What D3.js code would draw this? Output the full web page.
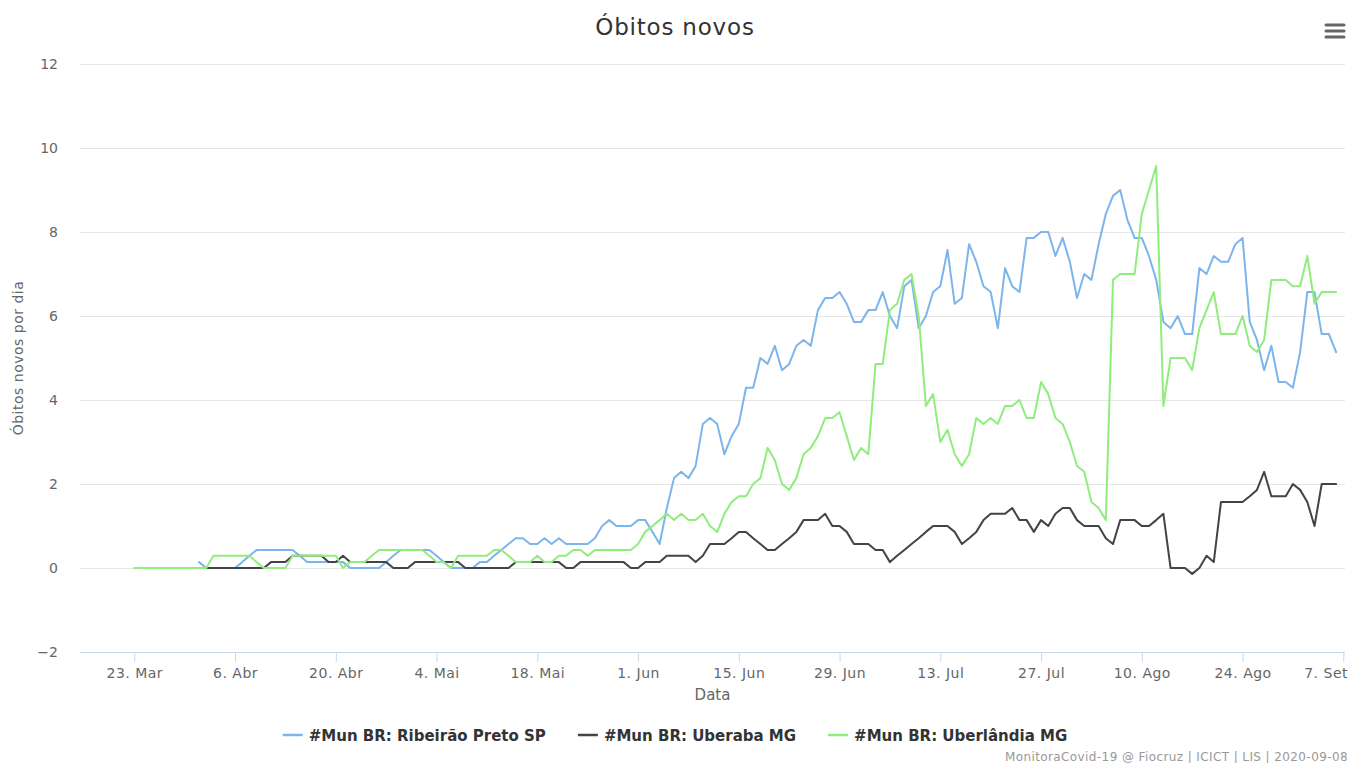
<!DOCTYPE html>
<html>
<head>
<meta charset="utf-8">
<title>Óbitos novos</title>
<script src="https://cdn.jsdelivr.net/npm/d3@7"></script>
<style>
  body { margin: 0; background: #fff; }
  svg { display: block; font-family: "DejaVu Sans", sans-serif; }
</style>
</head>
<body>
<script>

// Series: 7-day average of new deaths per municipality
var nomeRibeirao = "#Mun BR: Ribeirão Preto SP";
var inicioRibeirao = "2020-04-01";
var valoresRibeirao = [
  0.14, 0, 0, 0, 0, 0, 0.14, 0.29, 0.43, 0.43, 0.43, 0.43, 0.43, 0.43, 0.29, 0.14,
  0.14, 0.14, 0.14, 0.14, 0.14, 0, 0, 0, 0, 0, 0.14, 0.29, 0.43, 0.43, 0.43, 0.43,
  0.43, 0.29, 0.14, 0, 0, 0, 0, 0.14, 0.14, 0.29, 0.43, 0.57, 0.71, 0.71, 0.57, 0.57,
  0.71, 0.57, 0.71, 0.57, 0.57, 0.57, 0.57, 0.71, 1.0, 1.14, 1.0, 1.0, 1.0, 1.14, 1.14, 0.86,
  0.57, 1.43, 2.14, 2.29, 2.14, 2.43, 3.43, 3.57, 3.43, 2.71, 3.14, 3.43, 4.29, 4.29, 5.0, 4.86,
  5.29, 4.71, 4.86, 5.29, 5.43, 5.29, 6.14, 6.43, 6.43, 6.57, 6.29, 5.86, 5.86, 6.14, 6.14, 6.57,
  6.0, 5.71, 6.71, 6.86, 5.71, 6.0, 6.57, 6.71, 7.57, 6.29, 6.43, 7.71, 7.29, 6.71, 6.57, 5.71,
  7.14, 6.71, 6.57, 7.86, 7.86, 8.0, 8.0, 7.43, 7.86, 7.29, 6.43, 7.0, 6.86, 7.71, 8.43, 8.86,
  9.0, 8.29, 7.86, 7.86, 7.43, 6.86, 5.86, 5.71, 6.0, 5.57, 5.57, 7.14, 7.0, 7.43, 7.29, 7.29,
  7.71, 7.86, 5.86, 5.43, 4.71, 5.29, 4.43, 4.43, 4.29, 5.14, 6.57, 6.57, 5.57, 5.57, 5.14
];

var nomeUberaba = "#Mun BR: Uberaba MG";
var inicioUberaba = "2020-04-02";
var valoresUberaba = [
  0, 0, 0, 0, 0, 0, 0, 0, 0, 0.14, 0.14, 0.14, 0.29, 0.29, 0.29, 0.29,
  0.29, 0.14, 0.14, 0.29, 0.14, 0.14, 0.14, 0.14, 0.14, 0.14, 0, 0, 0, 0.14, 0.14, 0.14,
  0.14, 0.14, 0.14, 0.14, 0, 0, 0, 0, 0, 0, 0, 0.14, 0.14, 0.14, 0.14, 0.14,
  0.14, 0.14, 0, 0, 0.14, 0.14, 0.14, 0.14, 0.14, 0.14, 0.14, 0, 0, 0.14, 0.14, 0.14,
  0.29, 0.29, 0.29, 0.29, 0.14, 0.29, 0.57, 0.57, 0.57, 0.71, 0.86, 0.86, 0.71, 0.57, 0.43, 0.43,
  0.57, 0.71, 0.86, 1.14, 1.14, 1.14, 1.29, 1.0, 1.0, 0.86, 0.57, 0.57, 0.57, 0.43, 0.43, 0.14,
  0.29, 0.43, 0.57, 0.71, 0.86, 1.0, 1.0, 1.0, 0.86, 0.57, 0.71, 0.86, 1.14, 1.29, 1.29, 1.29,
  1.43, 1.14, 1.14, 0.86, 1.14, 1.0, 1.29, 1.43, 1.43, 1.14, 1.0, 1.0, 1.0, 0.71, 0.57, 1.14,
  1.14, 1.14, 1.0, 1.0, 1.14, 1.29, 0, 0, 0, -0.14, 0, 0.29, 0.14, 1.57, 1.57, 1.57,
  1.57, 1.71, 1.86, 2.29, 1.71, 1.71, 1.71, 2.0, 1.86, 1.57, 1.0, 2.0, 2.0, 2.0
];

var nomeUberlandia = "#Mun BR: Uberlândia MG";
var inicioUberlandia = "2020-03-23";
var valoresUberlandia = [
  0, 0, 0, 0, 0, 0, 0, 0, 0, 0, 0, 0.29, 0.29, 0.29, 0.29, 0.29,
  0.29, 0.14, 0, 0, 0, 0, 0.29, 0.29, 0.29, 0.29, 0.29, 0.29, 0.29, 0, 0.14, 0.14,
  0.14, 0.29, 0.43, 0.43, 0.43, 0.43, 0.43, 0.43, 0.43, 0.29, 0.14, 0.14, 0, 0.29, 0.29, 0.29,
  0.29, 0.29, 0.43, 0.43, 0.29, 0.14, 0.14, 0.14, 0.29, 0.14, 0.14, 0.29, 0.29, 0.43, 0.43, 0.29,
  0.43, 0.43, 0.43, 0.43, 0.43, 0.43, 0.57, 0.86, 1.0, 1.14, 1.29, 1.14, 1.29, 1.14, 1.14, 1.29,
  1.0, 0.86, 1.29, 1.57, 1.71, 1.71, 2.0, 2.14, 2.86, 2.57, 2.0, 1.86, 2.14, 2.71, 2.86, 3.14,
  3.57, 3.57, 3.71, 3.14, 2.57, 2.86, 2.71, 4.86, 4.86, 6.14, 6.29, 6.86, 7.0, 6.0, 3.86, 4.14,
  3.0, 3.29, 2.71, 2.43, 2.71, 3.57, 3.43, 3.57, 3.43, 3.86, 3.86, 4.0, 3.57, 3.57, 4.43, 4.14,
  3.57, 3.43, 3.0, 2.43, 2.29, 1.57, 1.43, 1.14, 6.86, 7.0, 7.0, 7.0, 8.43, 9.0, 9.57, 3.86,
  5.0, 5.0, 5.0, 4.71, 5.71, 6.14, 6.57, 5.57, 5.57, 5.57, 6.0, 5.29, 5.14, 5.43, 6.86, 6.86,
  6.86, 6.71, 6.71, 7.43, 6.29, 6.57, 6.57, 6.57
];

// x axis ticks every two weeks, y axis ticks
var xTicks = ["2020-03-23", "2020-04-06", "2020-04-20", "2020-05-04", "2020-05-18", "2020-06-01",
              "2020-06-15", "2020-06-29", "2020-07-13", "2020-07-27", "2020-08-10", "2020-08-24", "2020-09-07"];
var yTicks = [-2, 0, 2, 4, 6, 8, 10, 12];

var cores = ["#7cb5ec", "#434348", "#90ed7d"];

var parseDate = d3.timeParse("%Y-%m-%d");

// portuguese month names for the tick labels
var ptBR = d3.timeFormatLocale({
  dateTime: "%d/%m/%Y %H:%M:%S", date: "%d/%m/%Y", time: "%H:%M:%S",
  periods: ["AM", "PM"],
  days: ["Domingo", "Segunda", "Terça", "Quarta", "Quinta", "Sexta", "Sábado"],
  shortDays: ["Dom", "Seg", "Ter", "Qua", "Qui", "Sex", "Sáb"],
  months: ["Janeiro", "Fevereiro", "Março", "Abril", "Maio", "Junho", "Julho", "Agosto", "Setembro", "Outubro", "Novembro", "Dezembro"],
  shortMonths: ["Jan", "Fev", "Mar", "Abr", "Mai", "Jun", "Jul", "Ago", "Set", "Out", "Nov", "Dez"]
});
var formatTick = ptBR.format("%-d. %b");

// build one array of {date, valor} per series
function serie(nome, inicio, valores, cor) {
  var start = parseDate(inicio);
  return {
    nome: nome,
    cor: cor,
    pontos: valores.map(function(v, i) { return { date: d3.timeDay.offset(start, i), valor: v }; })
  };
}

var series = [
  serie(nomeRibeirao, inicioRibeirao, valoresRibeirao, cores[0]),
  serie(nomeUberaba, inicioUberaba, valoresUberaba, cores[1]),
  serie(nomeUberlandia, inicioUberlandia, valoresUberlandia, cores[2])
];

var W = 1350, H = 763,
    margin = {top: 64, right: 5, bottom: 111, left: 80},
    width = W - margin.left - margin.right,
    height = H - margin.top - margin.bottom;

var svg = d3.select("body").append("svg").attr("width", W).attr("height", H);
var g = svg.append("g").attr("transform", "translate(" + margin.left + "," + margin.top + ")");

// x range pinned so that 23 Mar and 7 Set land where the original ticks sit
var x = d3.scaleTime()
    .domain([parseDate("2020-03-23"), parseDate("2020-09-07")])
    .range([54.3, 1263.3]);

var y = d3.scaleLinear()
    .domain([-2, 12])
    .range([height, 0]);

// horizontal grid lines
g.append("g")
    .selectAll("line")
    .data(yTicks.slice(1))
    .enter().append("line")
    .attr("x1", 0).attr("x2", width)
    .attr("y1", function(d) { return y(d) + 0.5; })
    .attr("y2", function(d) { return y(d) + 0.5; })
    .attr("stroke", "#e6e6e6");

// y axis labels
var yAxis = g.append("g")
    .call(d3.axisLeft(y).tickValues(yTicks).tickSize(0).tickPadding(22));
yAxis.select(".domain").remove();
yAxis.selectAll("text")
    .attr("fill", "#666")
    .style("font-size", "14px")
    .style("font-family", "DejaVu Sans, sans-serif");

// x axis
var xAxis = g.append("g")
    .attr("transform", "translate(0," + height + ")")
    .call(d3.axisBottom(x).tickValues(xTicks.map(parseDate)).tickFormat(formatTick).tickSize(10).tickPadding(6));
xAxis.select(".domain")
    .attr("d", "M0,0.5H" + width)
    .attr("stroke", "#ccd6eb");
xAxis.selectAll(".tick line").attr("stroke", "#ccd6eb");
xAxis.selectAll("text")
    .attr("fill", "#666")
    .style("font-size", "14px")
    .style("letter-spacing", "0.5px")
    .style("font-family", "DejaVu Sans, sans-serif");

// keep last label inside the chart, like highcharts does
xAxis.selectAll(".tick text").each(function(d) {
  var box = this.getBoundingClientRect();
  if (box.right > W - 2) {
    d3.select(this).attr("dx", -(box.right - (W - 2)));
  }
});

// lines
var line = d3.line()
    .defined(function(d) { return d.valor != null; })
    .x(function(d) { return x(d.date); })
    .y(function(d) { return y(d.valor); });

g.append("g")
    .selectAll("path")
    .data(series)
    .enter().append("path")
    .attr("fill", "none")
    .attr("stroke", function(d) { return d.cor; })
    .attr("stroke-width", 2)
    .attr("stroke-linejoin", "round")
    .attr("stroke-linecap", "round")
    .attr("d", function(d) { return line(d.pontos); });

// title
svg.append("text")
    .attr("x", W / 2)
    .attr("y", 35)
    .attr("text-anchor", "middle")
    .attr("fill", "#333")
    .style("font-size", "23px")
    .style("letter-spacing", "0.8px")
    .text("Óbitos novos");

// axis titles
svg.append("text")
    .attr("transform", "translate(23," + (margin.top + height / 2) + ") rotate(-90)")
    .attr("text-anchor", "middle")
    .attr("fill", "#666")
    .style("font-size", "14px")
    .style("letter-spacing", "0.5px")
    .text("Óbitos novos por dia");

svg.append("text")
    .attr("x", margin.left + width / 2)
    .attr("y", 700)
    .attr("text-anchor", "middle")
    .attr("fill", "#666")
    .style("font-size", "15px")
    .text("Data");

// legend, centered on the chart
var legend = svg.append("g");
var itemX = 0;
series.forEach(function(s) {
  var item = legend.append("g").attr("transform", "translate(" + itemX + ",0)");
  item.append("line")
      .attr("x1", 0).attr("x2", 20)
      .attr("y1", 0).attr("y2", 0)
      .attr("stroke", s.cor)
      .attr("stroke-width", 2.5);
  var t = item.append("text")
      .attr("x", 26)
      .attr("y", 5.5)
      .attr("fill", "#333")
      .style("font-size", "15px")
      .style("font-weight", "bold")
      .text(s.nome);
  itemX += 26 + t.node().getComputedTextLength() + 32;
});
var legendWidth = itemX - 32;
legend.attr("transform", "translate(" + (W / 2 - legendWidth / 2) + ",735)");

// credits
svg.append("text")
    .attr("x", W - 2)
    .attr("y", 761)
    .attr("text-anchor", "end")
    .attr("fill", "#999")
    .style("font-size", "12px")
    .style("letter-spacing", "0.4px")
    .text("MonitoraCovid-19 @ Fiocruz | ICICT | LIS | 2020-09-08");

// context menu icon
svg.append("g")
    .selectAll("line")
    .data([25, 31, 37])
    .enter().append("line")
    .attr("x1", 1326).attr("x2", 1344)
    .attr("y1", function(d) { return d; })
    .attr("y2", function(d) { return d; })
    .attr("stroke", "#666")
    .attr("stroke-width", 3)
    .attr("stroke-linecap", "round");

</script>
</body>
</html>
